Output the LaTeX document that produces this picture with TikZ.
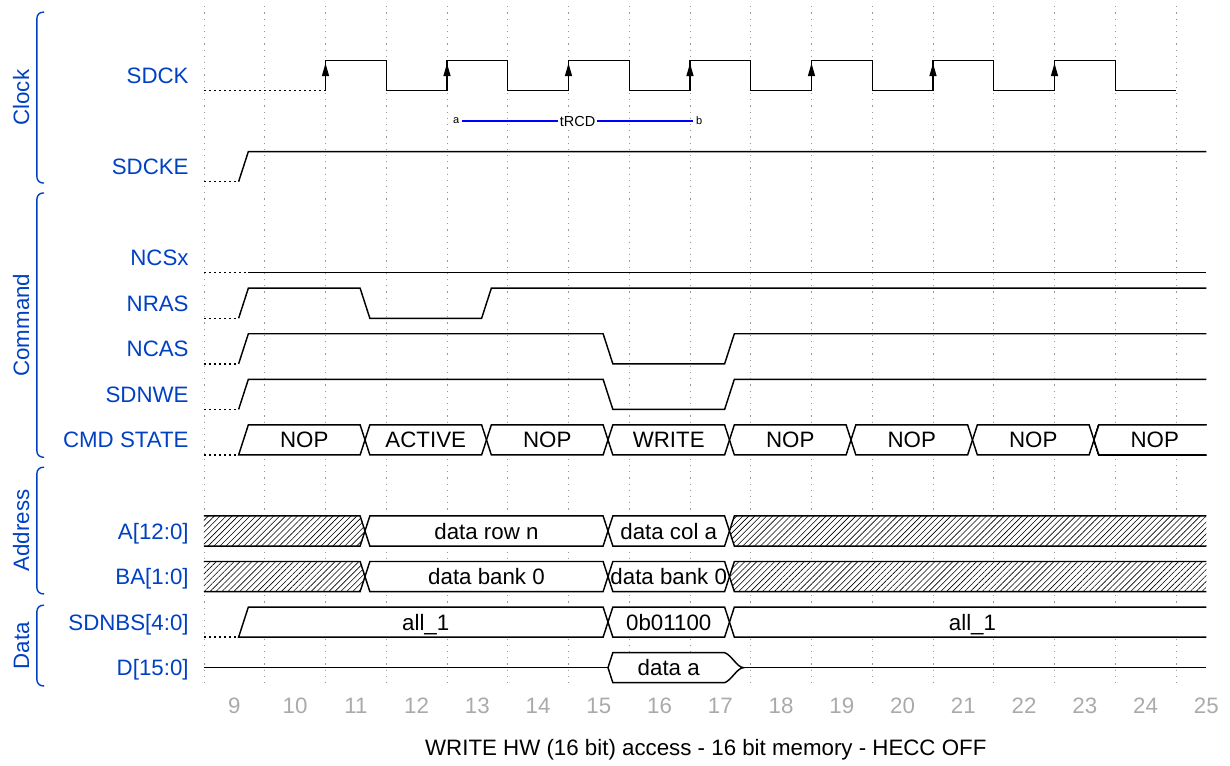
\documentclass[tikz,border=0pt]{standalone}
\usepackage{fontspec}
\setmainfont{Liberation Sans}
\usetikzlibrary{arrows.meta, patterns.meta}

\definecolor{wdblue}{RGB}{0,65,196}
\definecolor{tickgray}{RGB}{170,170,170}
\definecolor{spanblue}{RGB}{0,0,255}
\newcommand{\wfont}{\fontsize{22.3}{26}\selectfont}
\newcommand{\edgew}{0.08}   % half width of a transition
\newcommand{\waveamp}{0.33} % half height of a wave
% one bus value between two transitions
\newcommand{\buscell}[3]{%
  \draw[wave, fill=white] (#1,#3) -- ({#1+\edgew},{#3-\waveamp}) -- ({#2-\edgew},{#3-\waveamp})
    -- (#2,#3) -- ({#2-\edgew},{#3+\waveamp}) -- ({#1+\edgew},{#3+\waveamp}) -- cycle;}

\begin{document}
\begin{tikzpicture}[
    x=60.75pt, y=-45.55pt,
    wave/.style={line width=1.45pt},
    undef/.style={line width=1.45pt, dash pattern=on 2.5pt off 2.5pt},
    gridline/.style={black!40, line width=0.9pt, dash pattern=on 1.2pt off 5pt},
    sig/.style={anchor=east, text=wdblue, font=\wfont, text height=16pt, text depth=0pt, inner sep=0pt},
    grp/.style={text=wdblue, font=\wfont, rotate=90, text height=16pt, text depth=0pt, inner sep=0pt},
    grpbrace/.style={wdblue, line width=1.4pt, rounded corners=6pt},
    bustext/.style={font=\wfont, text height=16pt, text depth=0pt, inner sep=0pt},
    ticklbl/.style={text=tickgray, font=\wfont, text height=16pt, text depth=0pt, inner sep=0pt},
    dontcare/.style={preaction={fill=white}, pattern={Lines[angle=45, distance=4.2pt, line width=0.6pt]}},
    clkarrow/.style={-{Triangle[length=13pt, width=7pt]}, line width=1.45pt},
    ptlabel/.style={font=\fontsize{11}{13}\selectfont, fill=white, inner sep=3pt},
    trcdline/.style={draw=spanblue, line width=1.6pt}
]
    \useasboundingbox (-3.358,-1.6575) rectangle (16.889,15.159);

    % grid and cycle numbers
    \foreach \i in {0,...,16}
        \draw[gridline] (\i,-1.52) -- (\i,13.45);
    \foreach \i in {0,...,16} {
        \pgfmathtruncatemacro{\cyc}{\i+9}
        \node[ticklbl] (tick\i) at ({\i+0.5},13.83) {\cyc};
    }
    \node[bustext] (caption) at (8.26,14.76) {WRITE HW (16 bit) access - 16 bit memory - HECC OFF};

    % groups
    \foreach \nm/\ya/\yb in {Clock/-1.39/2.36, Command/2.58/8.38, Address/8.6/11.38, Data/11.63/13.4} {
        \draw[grpbrace] (-2.63,\ya) -- (-2.75,\ya) -- (-2.75,\yb) -- (-2.63,\yb);
        \node[grp] (grp\nm) at (-3.01,{(\ya+\yb)/2}) {\nm};
    }

    % signal names
    \foreach \r/\t in {0/SDCK, 2/SDCKE, 4/NCSx, 5/NRAS, 6/NCAS, 7/SDNWE, 8/CMD STATE,
                       10/A[12:0], 11/BA[1:0], 12/SDNBS[4:0], 13/D[15:0]}
        \node[sig] (sig\r) at (-0.25,\r) {\t};

    % SDCK
    \draw[undef] (0,0.33) -- (2,0.33);
    \draw[wave] (2,0.33) \foreach \k in {2,4,...,14} {
        -- (\k,-0.33) -- ({\k+1},-0.33) -- ({\k+1},0.33) -- ({\k+2},0.33)};
    \foreach \k in {2,4,...,14}
        \draw[clkarrow] (\k,0.2) -- (\k,-0.27);

    % tRCD
    \node[ptlabel] (a) at (4.15,1) {a};
    \node[ptlabel] (b) at (8.15,1) {b};
    \draw[trcdline] (a) -- node[fill=white, text=black, font=\fontsize{14.5}{17}\selectfont, inner sep=2pt] (trcd) {tRCD} (b);

    % SDCKE
    \draw[undef] (0,2.33) -- (0.57,2.33);
    \draw[wave] (0.57,2.33) -- (0.73,1.67) -- (16.5,1.67);

    % NCSx
    \draw[undef] (0,4.33) -- (0.73,4.33);
    \draw[wave] (0.73,4.33) -- (16.5,4.33);

    % NRAS
    \draw[undef] (0,5.33) -- (0.57,5.33);
    \draw[wave] (0.57,5.33) -- (0.73,4.67) -- (2.57,4.67) -- (2.73,5.33)
        -- (4.57,5.33) -- (4.73,4.67) -- (16.5,4.67);

    % NCAS
    \draw[undef] (0,6.33) -- (0.57,6.33);
    \draw[wave] (0.57,6.33) -- (0.73,5.67) -- (6.57,5.67) -- (6.73,6.33)
        -- (8.57,6.33) -- (8.73,5.67) -- (16.5,5.67);

    % SDNWE
    \draw[undef] (0,7.33) -- (0.57,7.33);
    \draw[wave] (0.57,7.33) -- (0.73,6.67) -- (6.57,6.67) -- (6.73,7.33)
        -- (8.57,7.33) -- (8.73,6.67) -- (16.5,6.67);

    % CMD STATE
    \draw[undef] (0,8.33) -- (0.57,8.33);
    \draw[wave, fill=white] (0.57,8.33) -- (0.73,7.67) -- (2.57,7.67) -- (2.65,8) -- (2.57,8.33) -- cycle;
    \foreach \p/\q in {2.65/4.65, 4.65/6.65, 6.65/8.65, 8.65/10.65, 10.65/12.65, 12.65/14.65}
        \buscell{\p}{\q}{8}
    \draw[wave, fill=white] (16.5,7.67) -- (14.73,7.67) -- (14.65,8) -- (14.73,8.33) -- (16.5,8.33);
    \foreach \x/\t [count=\n] in {1.65/NOP, 3.65/ACTIVE, 5.65/NOP, 7.65/WRITE,
                                  9.65/NOP, 11.65/NOP, 13.65/NOP, 15.65/NOP}
        \node[bustext] (cmd\n) at (\x,8) {\t};

    % A[12:0]
    \draw[wave, dontcare] (0,9.67) -- (2.57,9.67) -- (2.65,10) -- (2.57,10.33) -- (0,10.33);
    \buscell{2.65}{6.65}{10}
    \buscell{6.65}{8.65}{10}
    \draw[wave, dontcare] (16.5,9.67) -- (8.73,9.67) -- (8.65,10) -- (8.73,10.33) -- (16.5,10.33);
    \node[bustext] (row) at (4.65,10) {data row n};
    \node[bustext] (col) at (7.65,10) {data col a};

    % BA[1:0]
    \draw[wave, dontcare] (0,10.67) -- (2.57,10.67) -- (2.65,11) -- (2.57,11.33) -- (0,11.33);
    \buscell{2.65}{6.65}{11}
    \buscell{6.65}{8.65}{11}
    \draw[wave, dontcare] (16.5,10.67) -- (8.73,10.67) -- (8.65,11) -- (8.73,11.33) -- (16.5,11.33);
    \node[bustext] (bank1) at (4.65,11) {data bank 0};
    \node[bustext] (bank2) at (7.65,11) {data bank 0};

    % SDNBS[4:0]
    \draw[undef] (0,12.33) -- (0.57,12.33);
    \draw[wave, fill=white] (0.57,12.33) -- (0.73,11.67) -- (6.57,11.67) -- (6.65,12) -- (6.57,12.33) -- cycle;
    \buscell{6.65}{8.65}{12}
    \draw[wave, fill=white] (16.5,11.67) -- (8.73,11.67) -- (8.65,12) -- (8.73,12.33) -- (16.5,12.33);
    \node[bustext] (nbs1) at (3.65,12) {all\_1};
    \node[bustext] (nbs2) at (7.65,12) {0b01100};
    \node[bustext] (nbs3) at (12.65,12) {all\_1};

    % D[15:0]
    \draw[wave] (0,13) -- (6.65,13);
    \draw[wave, fill=white] (6.65,13) -- (6.73,12.67) -- (8.57,12.67)
        .. controls (8.68,12.72) and (8.78,13) .. (8.88,13)
        .. controls (8.78,13) and (8.68,13.28) .. (8.57,13.33) -- (6.73,13.33) -- cycle;
    \draw[wave] (8.88,13) -- (16.5,13);
    \node[bustext] (dat) at (7.65,13) {data a};
\end{tikzpicture}
\end{document}
